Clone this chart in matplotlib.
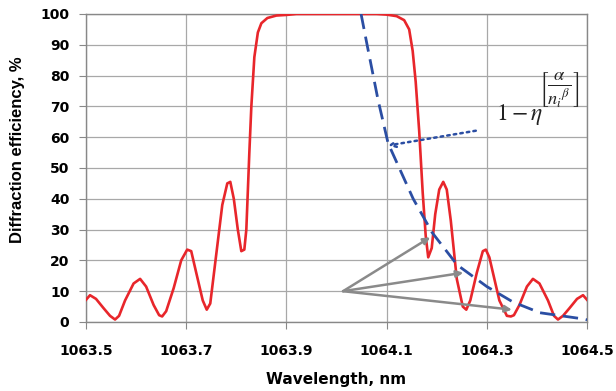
import matplotlib
matplotlib.use("Agg")
import matplotlib.pyplot as plt

# measured diffraction efficiency (red)
wl_meas = [1063.500, 1063.508, 1063.520, 1063.535, 1063.548, 1063.558, 1063.566, 1063.578,
           1063.595, 1063.608, 1063.620, 1063.635, 1063.646, 1063.652, 1063.660, 1063.675,
           1063.690, 1063.702, 1063.710, 1063.720, 1063.733, 1063.741, 1063.748, 1063.760,
           1063.772, 1063.782, 1063.788, 1063.795, 1063.803, 1063.810, 1063.816, 1063.820,
           1063.826, 1063.830, 1063.836, 1063.843, 1063.850, 1063.862, 1063.880, 1063.900,
           1063.920, 1064.080, 1064.100, 1064.120, 1064.135, 1064.145, 1064.152, 1064.158,
           1064.165, 1064.172, 1064.178, 1064.183, 1064.190, 1064.197, 1064.205, 1064.213,
           1064.220, 1064.228, 1064.240, 1064.252, 1064.259, 1064.267, 1064.280, 1064.292,
           1064.298, 1064.305, 1064.325, 1064.340, 1064.348, 1064.354, 1064.365, 1064.380,
           1064.392, 1064.405, 1064.422, 1064.434, 1064.442, 1064.452, 1064.465, 1064.480,
           1064.492, 1064.500]
eff_meas = [7.2, 8.7, 7.5, 4.5, 2.0, 0.8, 2.0, 7.0,
            12.5, 14.0, 11.5, 5.5, 2.2, 1.8, 3.5, 11.0,
            20.0, 23.5, 23.0, 16.0, 7.0, 4.0, 6.0, 22.0,
            38.0, 45.0, 45.5, 40.0, 30.0, 23.0, 23.5, 30.0,
            55.0, 70.0, 86.0, 94.0, 97.0, 98.7, 99.5, 99.7,
            100.0, 100.0, 99.8, 99.3, 98.0, 95.0, 88.0, 78.0,
            62.0, 42.0, 28.0, 21.0, 24.0, 35.0, 43.0, 45.5,
            43.0, 33.0, 14.0, 5.0, 4.0, 7.0, 16.0, 23.0,
            23.5, 21.0, 7.0, 2.0, 1.8, 2.2, 5.5, 11.5,
            14.0, 12.5, 7.0, 2.0, 0.8, 2.0, 4.5, 7.5,
            8.7, 7.2]

# model envelope (blue dashed)
wl_model = [1064.049, 1064.061, 1064.083, 1064.103, 1064.153, 1064.191, 1064.241,
            1064.300, 1064.352, 1064.406, 1064.492, 1064.500]
eff_model = [100, 90, 72, 58, 40, 29, 18.5, 11.5, 6.5, 3, 1, 0.7]

# gray pointer arrows: common tail and three heads
arrow_tail = (1064.013, 10)
arrow_heads = [(1064.187, 27.5), (1064.253, 16), (1064.350, 4)]

xticks = [1063.5, 1063.7, 1063.9, 1064.1, 1064.3, 1064.5]
yticks = list(range(0, 101, 10))

plt.rcParams['font.family'] = 'DejaVu Sans'
plt.rcParams['mathtext.fontset'] = 'stix'

fig = plt.figure(figsize=(6.16, 3.91), dpi=100)
ax = fig.add_axes([0.1396, 0.1765, 0.8134, 0.7877])

ax.plot(wl_meas, eff_meas, color='#e8262b', lw=1.9, zorder=3)
ax.plot(wl_model, eff_model, color='#2b4ea3', lw=2.0, dashes=(5.5, 2.8), zorder=4)

for hx, hy in arrow_heads:
    ax.annotate('', xy=(hx, hy), xytext=arrow_tail,
                arrowprops=dict(arrowstyle='-|>', color='#8a8a8a', lw=1.8,
                                mutation_scale=10, shrinkA=0, shrinkB=0), zorder=5)

ax.annotate('', xy=(1064.103, 57.3), xytext=(1064.278, 62.1),
            arrowprops=dict(arrowstyle='->', color='#2b4ea3', lw=1.8, linestyle=':',
                            mutation_scale=10, shrinkA=0, shrinkB=0), zorder=5)

# formula label: base and bracketed exponent
ax.text(1064.318, 65.6, r'$1-\eta$', fontsize=17, color='#222222',
        ha='left', va='baseline')
ax.text(1064.404, 75.3, r'$\left[\frac{\alpha}{{n_i}^{\beta}}\right]$',
        fontsize=19, color='#222222', ha='left', va='center')

ax.set_xlim(1063.5, 1064.5)
ax.set_ylim(0, 100)
ax.set_xticks(xticks)
ax.set_yticks(yticks)
ax.set_xticklabels([f'{t:.1f}' for t in xticks], fontweight='bold', fontsize=10)
ax.set_yticklabels([str(t) for t in yticks], fontweight='bold', fontsize=10)
ax.tick_params(axis='x', length=5, color='#888888', pad=11)
ax.tick_params(axis='y', length=5, color='#888888', pad=7)
ax.grid(True, color='#a8a8a8', lw=0.9)
ax.set_axisbelow(True)
for s in ax.spines.values():
    s.set_color('#888888')
    s.set_linewidth(1.0)

ax.set_xlabel('Wavelength, nm', fontweight='bold', fontsize=11)
ax.xaxis.label.set_va('center')
ax.xaxis.set_label_coords(0.5, -0.188)
ax.set_ylabel('Diffraction efficiency, %', fontweight='bold', fontsize=12,
              family='Liberation Sans')
ax.yaxis.label.set_va('center')
ax.yaxis.set_label_coords(-0.136, 0.558)

fig.savefig('out.png', dpi=100)
